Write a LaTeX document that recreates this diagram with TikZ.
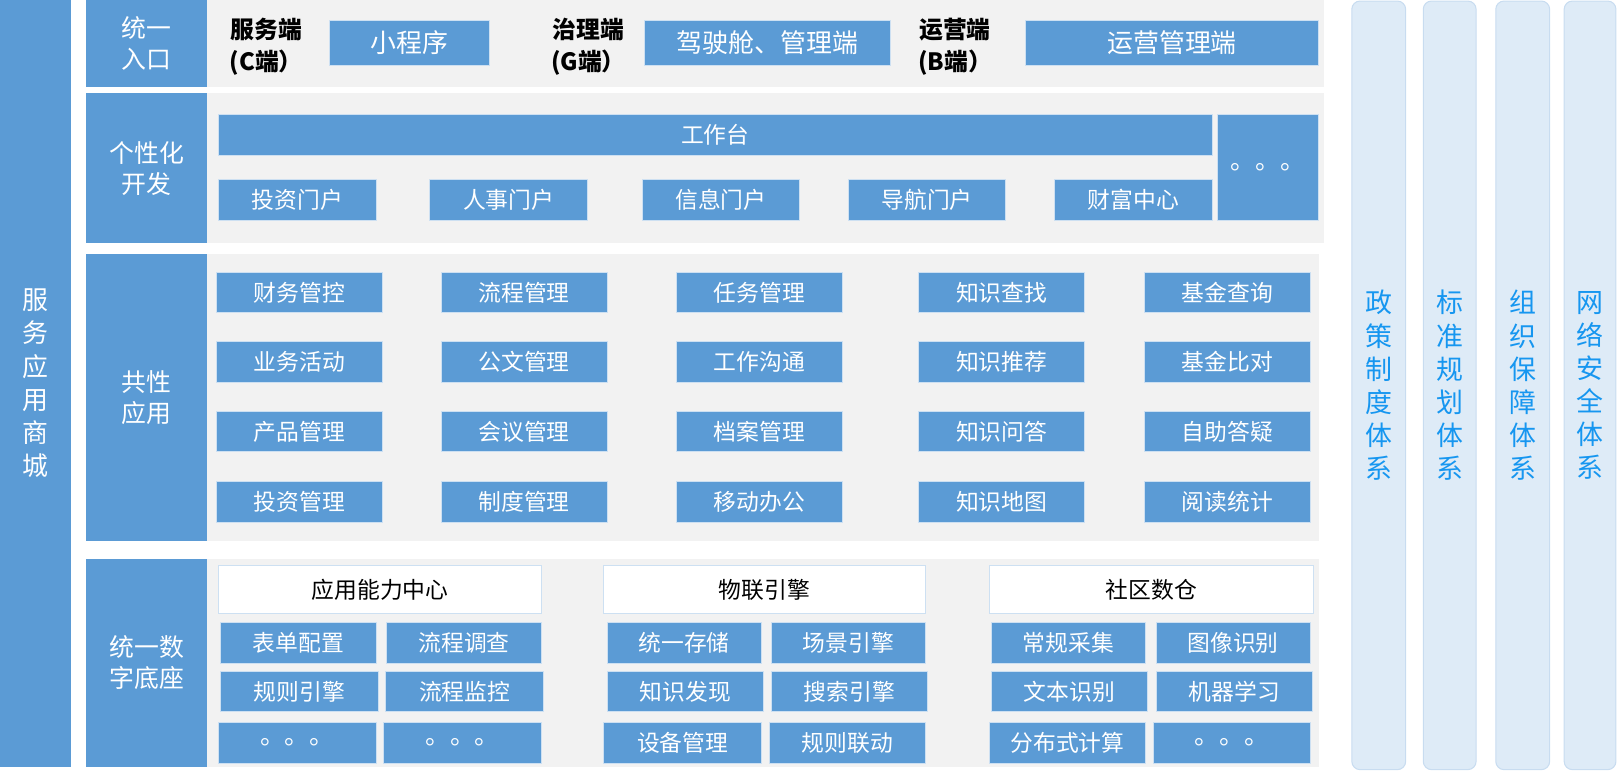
\documentclass[tikz,border=0pt]{standalone}
\usepackage{fontspec}
\setmainfont{Noto Sans CJK SC}
\definecolor{blu}{RGB}{91,155,213}
\definecolor{gry}{RGB}{242,242,242}
\definecolor{edg}{RGB}{205,224,242}
\definecolor{pil}{RGB}{222,235,247}
\definecolor{piledge}{RGB}{200,220,240}
\definecolor{piltext}{RGB}{22,150,240}
\newcommand\bx[7]{\node[#1, minimum width=#5pt-#3pt, minimum height=#6pt-#4pt] (#2) at ({(#3+#5)/2},{(#4+#6)/2}) {#7};}
\begin{document}
\begin{tikzpicture}[x=1pt,y=-1pt,
  every node/.style={inner sep=0pt, outer sep=0pt},
  btn/.style={fill=blu, draw=edg, line width=0.8pt, text=white, font=\fontsize{22}{26}\selectfont},
  bigbtn/.style={btn, font=\fontsize{25}{28}\selectfont},
  hdr/.style={fill=white, draw=edg, line width=0.8pt, text=black, font=\fontsize{22}{26}\selectfont},
  band/.style={fill=gry, draw=none},
  lab/.style={fill=blu, draw=none, text=white, align=center, font=\fontsize{24}{30}\selectfont},
  side/.style={fill=blu, draw=none, text=white, align=center, font=\fontsize{25}{32}\selectfont},
  pillar/.style={fill=pil, draw=piledge, line width=1pt, rounded corners=8pt, text=piltext, align=center, font=\fontsize{26}{32}\selectfont},
  term/.style={text=black, align=center, font=\bfseries\fontsize{23}{31}\selectfont},
  dots/.style={btn, font=\fontsize{24}{26}\selectfont}
]
\useasboundingbox (0,0) rectangle (1562,745);
% left side bar
\bx{side}{shop}{0}{0}{69}{740}{服\\务\\应\\用\\商\\城}
% bands
\bx{band}{b1}{83}{0}{1278}{84}{}
\bx{band}{b2}{83}{90}{1278}{235}{}
\bx{band}{b3}{83}{245}{1273}{522}{}
\bx{band}{b4}{83}{540}{1273}{740}{}
% row labels
\bx{lab}{l1}{83}{0}{200}{84}{统一\\入口}
\bx{lab}{l2}{83}{90}{200}{235}{个性化\\开发}
\bx{lab}{l3}{83}{245}{200}{522}{共性\\应用}
\bx{lab}{l4}{83}{540}{200}{740}{统一数\\字底座}
% row 1
\node[term] (tc) at (257,45) {服务端\\(C端）};
\bx{bigbtn}{mini}{318}{20}{472}{63}{小程序}
\node[term] (tg) at (568,45) {治理端\\(G端）};
\bx{bigbtn}{cock}{622}{20}{860}{63}{驾驶舱、管理端}
\node[term] (tb) at (922,45) {运营端\\(B端）};
\bx{bigbtn}{ops}{990}{20}{1273}{63}{运营管理端}
% row 2
\bx{btn}{desk}{211}{110}{1170}{150}{工作台}
\bx{dots}{more2}{1175}{110}{1273}{213}{。。。}
\bx{btn}{p1}{211}{173}{363}{213}{投资门户}
\bx{btn}{p2}{415}{173}{567}{213}{人事门户}
\bx{btn}{p3}{620}{173}{772}{213}{信息门户}
\bx{btn}{p4}{819}{173}{971}{213}{导航门户}
\bx{btn}{p5}{1018}{173}{1170}{213}{财富中心}
% row 3
\bx{btn}{a11}{209}{263}{369}{302}{财务管控}
\bx{btn}{a12}{426}{263}{586}{302}{流程管理}
\bx{btn}{a13}{653}{263}{813}{302}{任务管理}
\bx{btn}{a14}{887}{263}{1047}{302}{知识查找}
\bx{btn}{a15}{1105}{263}{1265}{302}{基金查询}
\bx{btn}{a21}{209}{330}{369}{369}{业务活动}
\bx{btn}{a22}{426}{330}{586}{369}{公文管理}
\bx{btn}{a23}{653}{330}{813}{369}{工作沟通}
\bx{btn}{a24}{887}{330}{1047}{369}{知识推荐}
\bx{btn}{a25}{1105}{330}{1265}{369}{基金比对}
\bx{btn}{a31}{209}{397}{369}{436}{产品管理}
\bx{btn}{a32}{426}{397}{586}{436}{会议管理}
\bx{btn}{a33}{653}{397}{813}{436}{档案管理}
\bx{btn}{a34}{887}{397}{1047}{436}{知识问答}
\bx{btn}{a35}{1105}{397}{1265}{436}{自助答疑}
\bx{btn}{a41}{209}{465}{369}{504}{投资管理}
\bx{btn}{a42}{426}{465}{586}{504}{制度管理}
\bx{btn}{a43}{653}{465}{813}{504}{移动办公}
\bx{btn}{a44}{887}{465}{1047}{504}{知识地图}
\bx{btn}{a45}{1105}{465}{1265}{504}{阅读统计}
% row 4, group A
\bx{hdr}{ha}{211}{546}{523}{592}{应用能力中心}
\bx{btn}{ga1}{213}{601}{363}{640}{表单配置}
\bx{btn}{ga2}{373}{601}{523}{640}{流程调查}
\bx{btn}{ga3}{213}{648}{365}{687}{规则引擎}
\bx{btn}{ga4}{372}{648}{525}{687}{流程监控}
\bx{dots}{ga5}{211}{697}{363}{737}{。。。}
\bx{dots}{ga6}{370}{697}{523}{737}{。。。}
% group B
\bx{hdr}{hb}{583}{546}{893}{592}{物联引擎}
\bx{btn}{gb1}{586}{601}{735}{640}{统一存储}
\bx{btn}{gb2}{745}{601}{893}{640}{场景引擎}
\bx{btn}{gb3}{586}{648}{737}{687}{知识发现}
\bx{btn}{gb4}{745}{648}{895}{687}{搜索引擎}
\bx{btn}{gb5}{583}{697}{735}{737}{设备管理}
\bx{btn}{gb6}{743}{697}{893}{737}{规则联动}
% group C
\bx{hdr}{hc}{955}{546}{1268}{592}{社区数仓}
\bx{btn}{gc1}{957}{601}{1106}{640}{常规采集}
\bx{btn}{gc2}{1116}{601}{1265}{640}{图像识别}
\bx{btn}{gc3}{957}{648}{1108}{687}{文本识别}
\bx{btn}{gc4}{1116}{648}{1267}{687}{机器学习}
\bx{btn}{gc5}{955}{697}{1106}{737}{分布式计算}
\bx{dots}{gc6}{1113}{697}{1265}{737}{。。。}
% right pillars
\bx{pillar}{r1}{1305}{1}{1357}{743}{政\\策\\制\\度\\体\\系}
\bx{pillar}{r2}{1374}{1}{1425}{743}{标\\准\\规\\划\\体\\系}
\bx{pillar}{r3}{1444}{1}{1496}{743}{组\\织\\保\\障\\体\\系}
\bx{pillar}{r4}{1510}{1}{1560}{743}{网\\络\\安\\全\\体\\系}
\end{tikzpicture}
\end{document}
